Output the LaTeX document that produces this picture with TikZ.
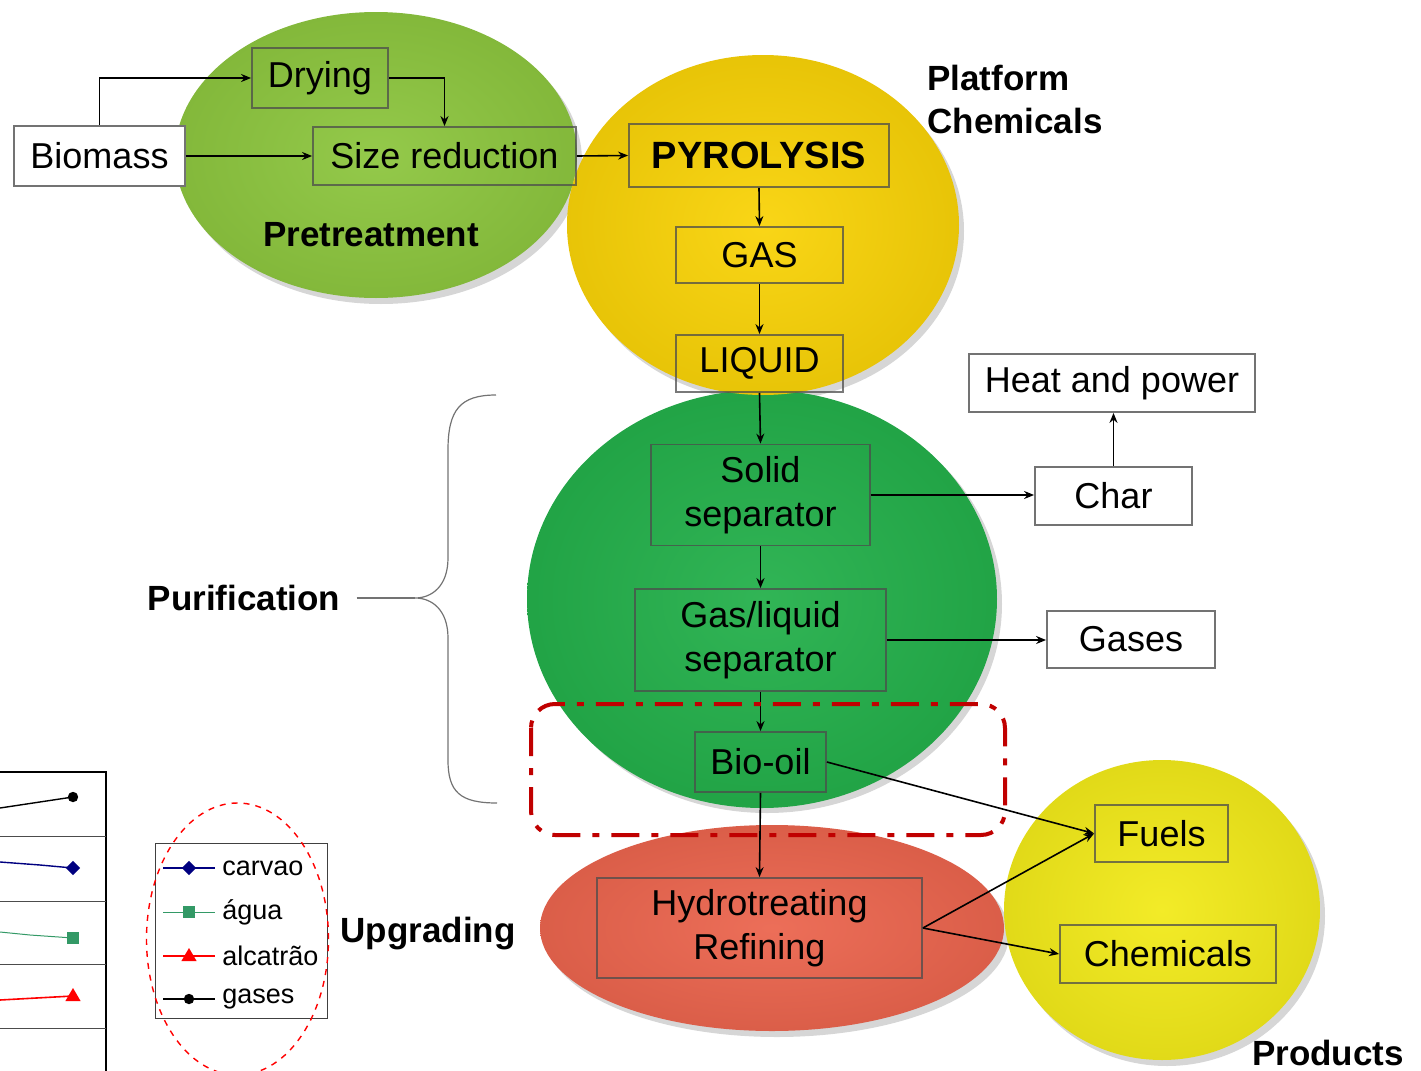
\documentclass[tikz,border=0pt]{standalone}
\usepackage{fontspec}
\setmainfont{Liberation Sans}
\usepackage{tikz}
\usetikzlibrary{arrows.meta}

\definecolor{pregreen}{HTML}{8DC63F}
\definecolor{pyroyellow}{HTML}{F9D308}
\definecolor{purigreen}{HTML}{24B04B}
\definecolor{upred}{HTML}{EB654E}
\definecolor{prodyellow}{HTML}{F2EA1A}
\definecolor{markred}{HTML}{C00000}
\definecolor{navyline}{HTML}{000080}
\definecolor{seagreen}{HTML}{339966}

\newcommand{\boxfont}{\fontsize{18}{22}\selectfont}
\newcommand{\tagfont}{\fontsize{17.5}{21.5}\selectfont\bfseries}
\newcommand{\legfont}{\fontsize{13.5}{16}\selectfont}

\tikzset{
  flowbox/.style={draw=black!70, draw opacity=0.75, line width=0.9pt, inner sep=0pt,
    align=center, font=\boxfont},
  whitebox/.style={flowbox, fill=white, draw=black!55, draw opacity=1},
  tag/.style={font=\tagfont, inner sep=0pt, align=left},
  arr/.style={-{Stealth[length=5pt,width=4pt]}, line width=0.8pt},
  blob/.style={shade, inner color=#1!94!white, outer color=#1!93!black},
  blobshadow/.style={fill=black, opacity=0.16}
}

\begin{document}
\begin{tikzpicture}[x=0.5pt, y=-0.5pt]
\useasboundingbox (0,0) rectangle (1421,1071);
\clip (0,0) rectangle (1421,1071);

% Sombras de las esferas
\fill[blobshadow] (381,161) ellipse [x radius=100.5pt, y radius=71.5pt];
\fill[blobshadow] (767,604) ellipse [x radius=117.5pt, y radius=104.5pt];
\fill[blobshadow] (768,231) ellipse [x radius=98pt, y radius=85pt];
\fill[blobshadow] (1167,916) ellipse [x radius=79pt, y radius=75pt];
\fill[blobshadow] (777,934) ellipse [x radius=116pt, y radius=51.5pt];

% Esferas de cada etapa
\path[blob=pregreen] (376,155) ellipse [x radius=100.5pt, y radius=71.5pt];
\path[blob=purigreen] (762,599) ellipse [x radius=117.5pt, y radius=104.5pt];
\path[blob=pyroyellow] (763,225) ellipse [x radius=98pt, y radius=85pt];
\path[blob=prodyellow] (1162,910) ellipse [x radius=79pt, y radius=75pt];
\path[blob=upred] (772,928) ellipse [x radius=116pt, y radius=51.5pt];

% Cajas del proceso
\node[whitebox, minimum width=85.5pt, minimum height=30pt] (biomass) at (99.5,156) {Biomass};
\node[flowbox, minimum width=68pt, minimum height=30pt] (drying) at (320,78) {Drying};
\node[flowbox, minimum width=131.5pt, minimum height=29pt] (sizered) at (444.5,156) {Size reduction};
\node[flowbox, minimum width=130pt, minimum height=31.5pt, font=\fontsize{19}{22}\selectfont\bfseries] (pyro) at (759,155.5) {PYROLYSIS};
\node[flowbox, minimum width=83.5pt, minimum height=28pt] (gas) at (759.5,255) {GAS};
\node[flowbox, minimum width=83.5pt, minimum height=28.5pt] (liquid) at (759.5,363.5) {LIQUID};
\node[flowbox, minimum width=109.5pt, minimum height=50.5pt] (solidsep) at (760.5,495) {Solid\\separator};
\node[flowbox, minimum width=125.5pt, minimum height=51pt] (gasliq) at (760.5,640) {Gas/liquid\\separator};
\node[flowbox, minimum width=65.5pt, minimum height=30pt] (biooil) at (760.5,762) {Bio-oil};
\node[flowbox, minimum width=162.5pt, minimum height=50pt] (hydro) at (759.5,928) {Hydrotreating\\Refining};
\node[whitebox, minimum width=143pt, minimum height=29pt] (heat) at (1112,383) {Heat and power};
\node[whitebox, minimum width=78.5pt, minimum height=29pt] (char) at (1113.5,496) {Char};
\node[whitebox, minimum width=84pt, minimum height=28.5pt] (gases) at (1131,639.5) {Gases};
\node[flowbox, minimum width=66.5pt, minimum height=28.5pt] (fuels) at (1161.5,833.5) {Fuels};
\node[flowbox, minimum width=108pt, minimum height=29pt] (chem) at (1168,954) {Chemicals};

% Etiquetas de las etapas
\node[tag, anchor=west] (platform) at (927,99) {Platform\\Chemicals};
\node[tag] (pretreat) at (371,235) {Pretreatment};
\node[tag] (purif) at (244,598) {Purification};
\node[tag] (upgrade) at (428,934) {Upgrading};
\node[tag] (products) at (1328,1053) {Products};

% Flechas
\draw[arr] (biomass.north) |- (drying.west);
\draw[arr] (drying.east) -| (sizered.north);
\draw[arr] (biomass.east) -- (sizered.west);
\draw[arr] (sizered.east) -- (pyro.west);
\draw[arr] (pyro.south) -- (gas.north);
\draw[arr] (gas.south) -- (liquid.north);
\draw[arr] (liquid.south) -- (solidsep.north);
\draw[arr] (solidsep.south) -- (gasliq.north);
\draw[arr] (gasliq.south) -- (biooil.north);
\draw[arr] (biooil.south) -- (hydro.north);
\draw[arr] (solidsep.east) -- (solidsep.east -| char.west);
\draw[arr] (char.north) -- (char.north |- heat.south);
\draw[arr] (gasliq.east) -- (gasliq.east -| gases.west);
\draw[arr] (biooil.east) -- (fuels.west);
\draw[arr] (hydro.east) -- (fuels.west);
\draw[arr] (hydro.east) -- (chem.west);

% Llave de purificacion
\coordinate (bracetip) at (415,598);
\draw[black!55, line width=0.6pt] (496,395) .. controls (460,395) and (448,410) .. (448,450)
  -- (448,558) .. controls (448,586) and (432,598) .. (bracetip)
  .. controls (432,598) and (448,610) .. (448,638) -- (448,760)
  .. controls (448,792) and (460,803) .. (497,803);
\draw[black!55, line width=0.6pt] (purif.east) ++(8pt,0) -- (bracetip);

% Marco rojo del bio-oil
\draw[markred, line width=2pt, dash pattern=on 14pt off 6pt on 3.5pt off 6pt, rounded corners=12pt]
  (531,704) rectangle (1005,835);

% Fragmento de grafico
\draw[black, line width=0.8pt] (0,772) -- (106,772) -- (106,1071);
\foreach \yy in {836,901,964,1028}
  \draw[black!70, line width=0.5pt] (0,\yy) -- (106,\yy);
\draw[black, line width=0.7pt] (0,808) -- (73,797);
\fill[black] (73,797) circle (2.6pt);
\draw[navyline, line width=0.7pt] (0,862) -- (40,865) -- (73,868);
\fill[navyline] (73,868) ++(-3.6pt,0) -- ++(3.6pt,3.6pt) -- ++(3.6pt,-3.6pt) -- ++(-3.6pt,-3.6pt) -- cycle;
\draw[seagreen, line width=0.5pt] (0,932) -- (30,935) -- (73,938);
\fill[seagreen] (73,938) ++(-3pt,-3pt) rectangle ++(6pt,6pt);
\draw[red, line width=0.8pt] (0,1000) -- (73,996);
\fill[red] (73,996) ++(-3.8pt,-2.5pt) -- ++(7.6pt,0) -- ++(-3.8pt,6.5pt) -- cycle;

% Leyenda
\draw[black!75, line width=0.5pt] (155,843) rectangle (327,1018);
\draw[navyline, line width=0.7pt] (163,868) -- (215,868);
\fill[navyline] (189,868) ++(-3.6pt,0) -- ++(3.6pt,3.6pt) -- ++(3.6pt,-3.6pt) -- ++(-3.6pt,-3.6pt) -- cycle;
\node[font=\legfont, anchor=west, inner sep=0pt] (lcarvao) at (222,868) {carvao};
\draw[seagreen, line width=0.5pt] (163,912) -- (215,912);
\fill[seagreen] (189,912) ++(-3pt,-3pt) rectangle ++(6pt,6pt);
\node[font=\legfont, anchor=west, inner sep=0pt] (lagua) at (222,912) {água};
\draw[red, line width=0.8pt] (163,956) -- (215,956);
\fill[red] (189,956) ++(-3.8pt,-2.5pt) -- ++(7.6pt,0) -- ++(-3.8pt,6.5pt) -- cycle;
\node[font=\legfont, anchor=west, inner sep=0pt] (lalcatrao) at (222,956) {alcatrão};
\draw[black, line width=0.7pt] (163,999) -- (215,999);
\fill[black] (189,999) circle (2.6pt);
\node[font=\legfont, anchor=west, inner sep=0pt] (lgases) at (222,999) {gases};
\draw[red, dashed, line width=0.7pt] (237.5,939) ellipse [x radius=45.5pt, y radius=68pt];

\end{tikzpicture}
\end{document}
